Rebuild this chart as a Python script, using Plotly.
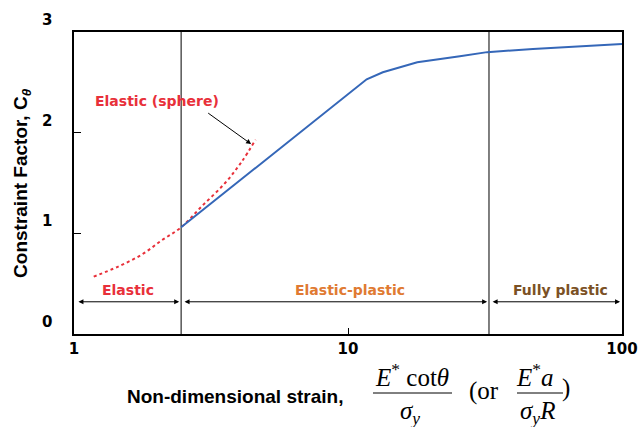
import numpy as np
import plotly.graph_objects as go

# ---- data ----
blue_x = [2.46, 7.64, 11.7, 13.4, 17.9, 25.6, 32.2, 47.3, 100]
blue_y = [1.06, 2.13, 2.53, 2.60, 2.70, 2.76, 2.80, 2.83, 2.88]

red_x = [1.18, 1.45, 1.77, 2.09, 2.46, 2.93, 3.56, 4.09, 4.60]
red_y = [0.57, 0.67, 0.79, 0.93, 1.06, 1.27, 1.50, 1.71, 1.93]

boundaries = [2.46, 32.7]          # regime boundaries (x)
y_ticks = [0, 1, 2, 3]
y_tick_text = ["0", "1", "2", "3"]
x_ticks = [1, 10, 100]
x_tick_text = ["1", "10", "100"]

regions = ["Elastic", "Elastic-plastic", "Fully plastic"]
region_x = [1.57, 10.2, 59.4]
region_colors = ["#E8303A", "#E07A32", "#7B5124"]
region_y = 0.44
arrow_y = 0.32
arrow_spans = [(1.025, 2.42), (2.50, 32.2), (33.3, 98.4)]

sphere_label = "Elastic (sphere)"
sphere_label_pos = (2.01, 2.31)
sphere_arrow_tail = (3.05, 2.205)
sphere_arrow_head = (4.43, 1.887)

RED = "#E8303A"
BLUE = "#3567B8"

fig = go.Figure()

fig.add_trace(go.Scatter(x=red_x, y=red_y, mode="lines",
                         line=dict(color=RED, width=2, dash="dot", shape="spline"),
                         showlegend=False, hoverinfo="skip"))
for b in boundaries:
    fig.add_trace(go.Scatter(x=[b, b], y=[0, 3], mode="lines",
                             line=dict(color="black", width=1),
                             showlegend=False, hoverinfo="skip"))
fig.add_trace(go.Scatter(x=blue_x, y=blue_y, mode="lines",
                         line=dict(color=BLUE, width=2),
                         showlegend=False, hoverinfo="skip"))

C = dict(xanchor="center", yanchor="middle", showarrow=False)
ann = []
# double-headed arrows
for (a, b) in arrow_spans:
    ann.append(dict(x=np.log10(b), y=arrow_y, ax=np.log10(a), ay=arrow_y,
                    xref="x", yref="y", axref="x", ayref="y", text="",
                    showarrow=True, arrowhead=2, arrowside="end+start",
                    arrowsize=1, arrowwidth=1, arrowcolor="black"))
# region labels
for t, xv, c in zip(regions, region_x, region_colors):
    ann.append(dict(x=np.log10(xv), y=region_y, xref="x", yref="y", text="<b>%s</b>" % t,
                    font=dict(family="DejaVu Sans", size=14, color=c), **C))
# sphere label and arrow
ann.append(dict(x=np.log10(sphere_label_pos[0]), y=sphere_label_pos[1], xref="x", yref="y",
                text="<b>%s</b>" % sphere_label,
                font=dict(family="DejaVu Sans", size=14, color=RED), **C))
ann.append(dict(x=np.log10(sphere_arrow_head[0]), y=sphere_arrow_head[1],
                ax=np.log10(sphere_arrow_tail[0]), ay=sphere_arrow_tail[1],
                xref="x", yref="y", axref="x", ayref="y", text="",
                showarrow=True, arrowhead=2, arrowsize=1, arrowwidth=1, arrowcolor="black"))
# y tick labels (offset upward as in the reference)
for v, t in zip(y_ticks, y_tick_text):
    ann.append(dict(x=-0.049, y=v, xref="paper", yref="y", yshift=12, text="<b>%s</b>" % t,
                    font=dict(family="DejaVu Sans", size=15, color="black"), **C))
# y title
ann.append(dict(x=-0.095, y=0.5, xref="paper", yref="paper", textangle=-90,
                text="<b>Constraint Factor, C<sub><i>θ</i></sub></b>",
                font=dict(family="Liberation Sans", size=19, color="black"), **C))
# x title
ann.append(dict(x=0.2938, y=-0.2086, xref="paper", yref="paper",
                text="<b>Non-dimensional strain,</b>",
                font=dict(family="Liberation Sans", size=19, color="black"), **C))
serif = dict(family="Liberation Serif", size=25, color="black")
ann.append(dict(x=0.6168, y=-0.1358, xref="paper", yref="paper",
                text="<i>E</i><sup>*</sup> cot<i>θ</i>", font=serif, **C))
ann.append(dict(x=0.613, y=-0.2583, xref="paper", yref="paper",
                text="<i>σ</i><sub><i>y</i></sub>", font=serif, **C))
ann.append(dict(x=0.748, y=-0.1887, xref="paper", yref="paper",
                text="(or", font=serif, **C))
ann.append(dict(x=0.8412, y=-0.1358, xref="paper", yref="paper",
                text="<i>E</i><sup>*</sup><i>a</i>", font=serif, **C))
ann.append(dict(x=0.845, y=-0.2583, xref="paper", yref="paper",
                text="<i>σ</i><sub><i>y</i></sub><i>R</i>", font=serif, **C))
ann.append(dict(x=0.8978, y=-0.1788, xref="paper", yref="paper",
                text=")", font=serif, **C))

shapes = [
    dict(type="line", xref="paper", yref="paper", x0=0.5456, x1=0.6898, y0=-0.1954, y1=-0.1954,
         line=dict(color="black", width=1)),
    dict(type="line", xref="paper", yref="paper", x0=0.8084, x1=0.8923, y0=-0.1954, y1=-0.1954,
         line=dict(color="black", width=1)),
]

fig.update_layout(
    width=641, height=427,
    margin=dict(l=74, r=19, t=32, b=93, autoexpand=False),
    paper_bgcolor="white", plot_bgcolor="white",
    annotations=ann, shapes=shapes,
    xaxis=dict(type="log", range=[0, 2], tickvals=x_ticks, ticktext=["<b>%s</b>" % t for t in x_tick_text],
               ticks="inside", ticklen=6, tickcolor="black", showgrid=False, zeroline=False,
               showline=True, linecolor="black", linewidth=2, mirror=True,
               tickfont=dict(family="DejaVu Sans", size=15, color="black")),
    yaxis=dict(range=[0, 3], tickvals=y_ticks, showticklabels=False,
               ticks="inside", ticklen=7, tickcolor="black", showgrid=False, zeroline=False,
               showline=True, linecolor="black", linewidth=2, mirror=True),
)

fig.write_html("out.html", config={"displayModeBar": False},
               post_script="document.body.style.margin='0';document.body.style.padding='0';")
